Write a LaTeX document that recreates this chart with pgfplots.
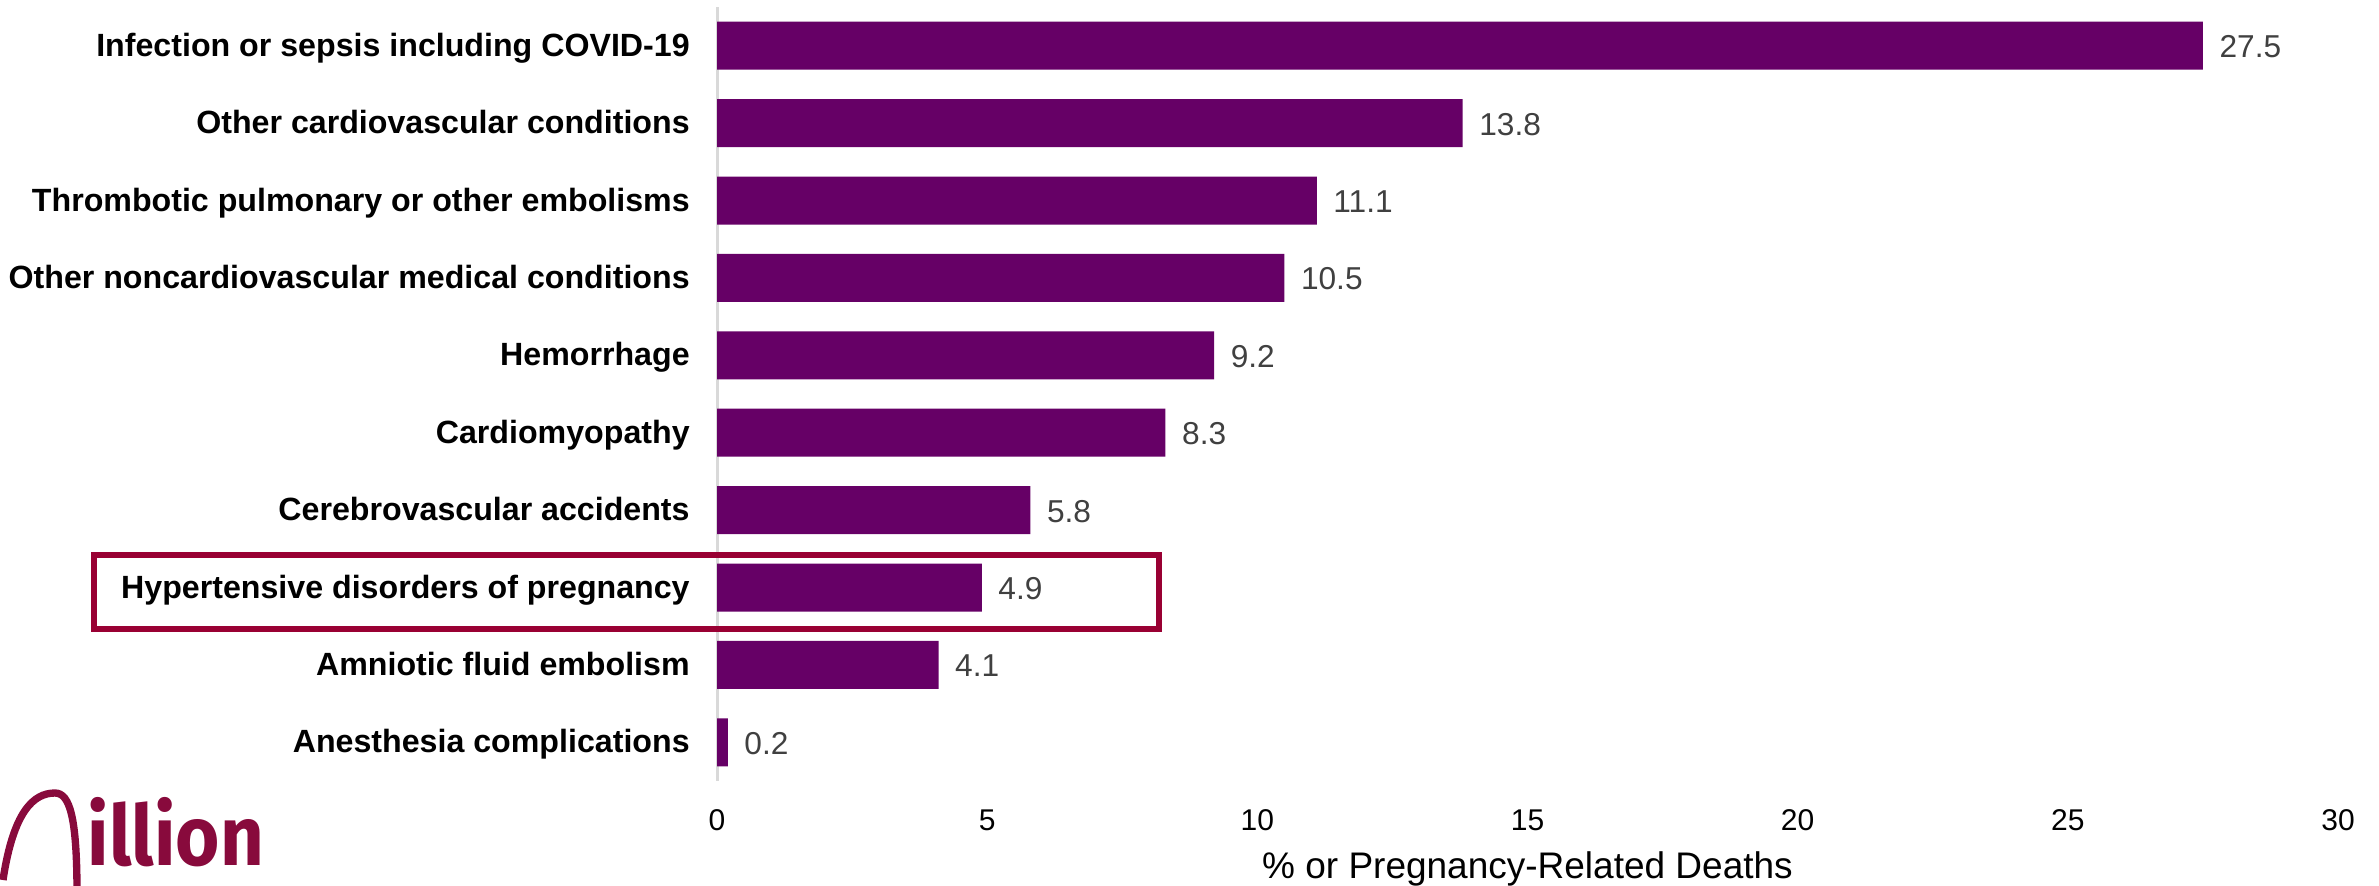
\documentclass[border=0pt]{standalone}
\usepackage{fontspec}
\setmainfont{Liberation Sans}
\newfontfamily\logofont{Fira Sans}
\usepackage{graphicx}
\usepackage{pgfplots}
\pgfplotsset{compat=1.18}
\definecolor{barpurple}{HTML}{660066}
\definecolor{boxred}{HTML}{990033}
\definecolor{logored}{HTML}{880A3C}
\definecolor{valgray}{HTML}{404040}
\definecolor{axgray}{HTML}{D9D9D9}
\begin{document}
\begin{tikzpicture}
\useasboundingbox (0,0) rectangle (713.7pt,265.5pt);
\begin{axis}[
  at={(215.1pt,31.2pt)}, anchor=south west,
  width=486.3pt, height=232.2pt, scale only axis,
  xmin=0, xmax=30, ymin=0.5, ymax=10.5, y dir=reverse,
  xbar, bar width=14.4pt,
  clip=false,
  axis line style={draw=none},
  major tick length=0pt, tick style={draw=none},
  xtick={0,5,...,30},
  ytick={1,...,10},
  yticklabels={Infection or sepsis including COVID-19,Other cardiovascular conditions,Thrombotic pulmonary or other embolisms,Other noncardiovascular medical conditions,Hemorrhage,Cardiomyopathy,Cerebrovascular accidents,Hypertensive disorders of pregnancy,Amniotic fluid embolism,Anesthesia complications},
  yticklabel style={font=\fontsize{9.65}{11}\selectfont\bfseries, anchor=base east, inner sep=0pt, xshift=-8pt, yshift=-3.2pt},
  xticklabel style={font=\fontsize{9}{11}\selectfont, anchor=base, inner sep=0pt, yshift=-14.7pt},
  /pgf/number format/assume math mode=true,
  xlabel={\% or Pregnancy-Related Deaths},
  xlabel style={font=\fontsize{11.1}{13}\selectfont, at={(axis description cs:0.5,0)}, anchor=base, inner sep=0pt, yshift=-29.1pt},
  nodes near coords,
  point meta=x,
  nodes near coords style={font=\fontsize{9.5}{11}\selectfont, text=valgray, anchor=base west, inner sep=0pt, xshift=4.8pt, yshift=-3.6pt,
    /pgf/number format/fixed, /pgf/number format/fixed zerofill, /pgf/number format/precision=1, /pgf/number format/assume math mode=true},
]
\draw[axgray, line width=0.9pt] (axis cs:0,0.5) -- (axis cs:0,10.5);
\addplot[fill=barpurple, draw=none] coordinates {
  (27.5,1) (13.8,2) (11.1,3) (10.5,4) (9.2,5) (8.3,6) (5.8,7) (4.9,8) (4.1,9) (0.2,10)
};
\draw[boxred, line width=1.8pt] (axis cs:-11.53,7.58) rectangle (axis cs:8.18,8.536);
\end{axis}
% logo (partially visible)
\draw[logored, line width=2.2pt] (0.9pt,1.5pt) .. controls (4pt,22pt) and (10pt,27.6pt) .. (16.5pt,27.6pt) .. controls (21pt,27.6pt) and (23pt,20pt) .. (23.1pt,-1pt);
\node[anchor=base west, inner sep=0pt, text=logored] at (26.1pt,6pt) {\scalebox{0.95}[1.05]{\logofont\bfseries\fontsize{24}{28}\selectfont illion}};
\end{tikzpicture}
\end{document}
